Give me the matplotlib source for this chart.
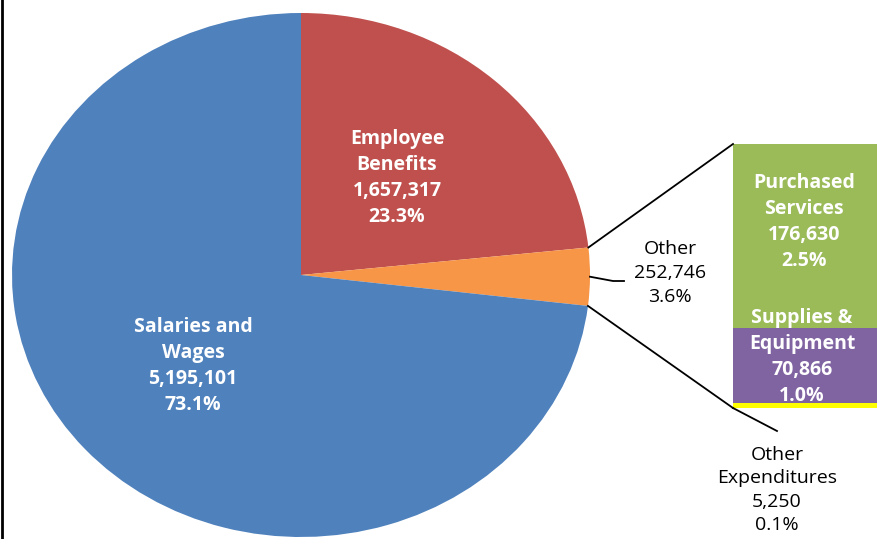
import numpy as np
import matplotlib.pyplot as plt

# main pie
pie_labels = ["Employee\nBenefits", "Other", "Salaries and\nWages"]
pie_values = [1657317, 252746, 5195101]
pie_pcts = ["23.3%", "3.6%", "73.1%"]
pie_colors = ["#C0504D", "#F79646", "#4F81BD"]

# breakdown of "Other"
bar_labels = ["Purchased\nServices", "Supplies &\nEquipment", "Other\nExpenditures"]
bar_values = [176630, 70866, 5250]
bar_pcts = ["2.5%", "1.0%", "0.1%"]
bar_colors = ["#9BBB59", "#8064A2", "#FFFF00"]

W, H = 877, 539
fig = plt.figure(figsize=(W / 100, H / 100), dpi=100)
plt.rcParams['font.family'] = ['Open Sans', 'DejaVu Sans']

# pie geometry in pixels (slightly squashed ellipse)
cx, cy, rx, ry = 301, 275, 289, 262

axp = fig.add_axes([(cx - rx) / W, 1 - (cy + ry) / H, 2 * rx / W, 2 * ry / H])
wedges, _ = axp.pie(pie_values, colors=pie_colors, startangle=90, counterclock=False,
                    radius=1, wedgeprops=dict(linewidth=0))
axp.set_xlim(-1, 1)
axp.set_ylim(-1, 1)
axp.set_aspect('auto')
axp.axis('off')

# overlay in pixel coords
ax = fig.add_axes([0, 0, 1, 1])
ax.set_xlim(0, W)
ax.set_ylim(H, 0)
ax.axis('off')

def pie_pt(deg, r=1.0):
    a = np.deg2rad(deg)
    return cx + rx * r * np.cos(a), cy - ry * r * np.sin(a)

# stacked bar
bar_top, bar_px = 144, 264
scale = bar_px / sum(bar_values)
bar_left, bar_w = 733, 200
bottom = bar_top
for v, c in zip(bar_values, bar_colors):
    h = v * scale
    ax.bar(bar_left, h, width=bar_w, bottom=bottom, color=c, align='edge', linewidth=0)
    bottom += h
bar_bottom = bottom

# connector lines from "Other" wedge to bar
ow = wedges[1]
x1, y1 = pie_pt(ow.theta2)
x2, y2 = pie_pt(ow.theta1)
ax.plot([x1, bar_left], [y1, bar_top], color='black', lw=1.3)
ax.plot([x2, bar_left], [y2, bar_bottom], color='black', lw=1.3)

bold = dict(color='white', fontsize=14, fontweight='bold', ha='center', va='center',
            linespacing=1.4)
norm = dict(color='black', fontsize=14, ha='center', va='center', linespacing=1.4)

# pie labels
ax.text(397, 178, f"{pie_labels[0]}\n{pie_values[0]:,}\n{pie_pcts[0]}", **bold)
ax.text(193, 366, f"{pie_labels[2]}\n{pie_values[2]:,}\n{pie_pcts[2]}", **bold)

mid = (ow.theta1 + ow.theta2) / 2
mx, my = pie_pt(mid)
ax.plot([mx, 613, 624], [my, 281, 281], color='black', lw=1.3)
ax.text(670, 273, f"{pie_labels[1]}\n{pie_values[1]:,}\n{pie_pcts[1]}", **norm)

# bar labels
ax.text(804, 222, f"{bar_labels[0]}\n{bar_values[0]:,}\n{bar_pcts[0]}", **bold)
ax.text(802, 357, f"{bar_labels[1]}\n{bar_values[1]:,}\n{bar_pcts[1]}", **bold)
ax.plot([bar_left, 777], [bar_bottom, 431], color='black', lw=1.3)
ax.text(777, 490, f"{bar_labels[2]}\n{bar_values[2]:,}\n{bar_pcts[2]}", **norm)

# left border
ax.plot([2, 2], [0, H], color='black', lw=2)

fig.savefig("out.png", dpi=100)
